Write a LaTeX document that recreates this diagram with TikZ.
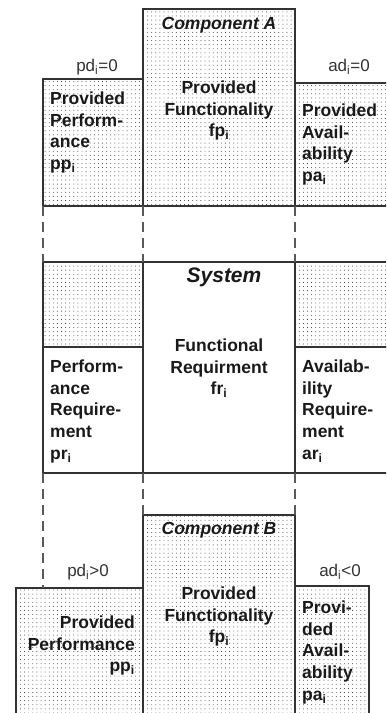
\documentclass[tikz,border=0pt]{standalone}
\usepackage{fontspec}
\setmainfont{Liberation Sans}
\usetikzlibrary{patterns}
\pgfdeclarepatternformonly{dotgrid}{\pgfqpoint{-1pt}{-1pt}}{\pgfqpoint{1pt}{1pt}}{\pgfqpoint{4.1pt}{4.1pt}}{\pgfpathcircle{\pgfqpoint{0pt}{0pt}}{0.45pt}\pgfusepath{fill}}
\tikzset{
  box/.style={draw=black!80, line width=1.5pt, rectangle, inner sep=0pt, outer sep=0pt},
  dotbox/.style={box, pattern=dotgrid, pattern color=black!90},
  guide/.style={draw=black!65, line width=1.3pt, dash pattern=on 10pt off 6pt},
  bodytext/.style={inner sep=0pt, font=\bfseries\fontsize{17.5}{21.7}\selectfont, text=black!90},
  titletext/.style={inner sep=0pt, font=\bfseries\itshape\fontsize{17.5}{21}\selectfont, text=black!90},
  labeltext/.style={inner sep=0pt, font=\fontsize{17}{20}\selectfont, text=black!80}
}
\begin{document}
\begin{tikzpicture}[x=1pt,y=-1pt]
\useasboundingbox (0,0) rectangle (386,713);
\clip (0,0) rectangle (386,713);
% ---- Component A ----
\node[dotbox, minimum width=100pt, minimum height=127pt] (perfA) at (93,142.5) {};
\node[dotbox, minimum width=105pt, minimum height=123pt] (availA) at (347.5,144.5) {};
\node[dotbox, minimum width=152pt, minimum height=197pt] (compA) at (219,107.5) {};
\node[titletext] (tA) at (219,25) {Component A};
\node[bodytext, align=center, anchor=north] (tAF) at (219,80.5) {Provided\\Functionality\\fp\textsubscript{i}};
\node[bodytext, align=left, anchor=north west] (tAP) at (50,91.5) {Provided\\Perform-\\ance\\pp\textsubscript{i}};
\node[bodytext, align=left, anchor=north west] (tAA) at (302,103.5) {Provided\\Avail-\\ability\\pa\textsubscript{i}};
\node[labeltext] (lpdA) at (97,67) {pd\textsubscript{i}=0};
\node[labeltext] (ladA) at (349,67) {ad\textsubscript{i}=0};
% ---- System ----
\node[dotbox, minimum width=100pt, minimum height=85pt] (sysPd) at (93,304.5) {};
\node[box, minimum width=100pt, minimum height=126pt] (sysPr) at (93,410) {};
\node[dotbox, minimum width=105pt, minimum height=85pt] (sysAd) at (347.5,304.5) {};
\node[box, minimum width=105pt, minimum height=126pt] (sysAr) at (347.5,410) {};
\node[box, minimum width=152pt, minimum height=211pt] (sysF) at (219,367.5) {};
\node[titletext, font=\bfseries\itshape\fontsize{21}{25}\selectfont] (tS) at (224,277) {System};
\node[bodytext, align=center, anchor=north] (tSF) at (219,338.5) {Functional\\Requirment\\fr\textsubscript{i}};
\node[bodytext, align=left, anchor=north west] (tSP) at (50,359.5) {Perform-\\ance\\Require-\\ment\\pr\textsubscript{i}};
\node[bodytext, align=left, anchor=north west] (tSA) at (302,359.5) {Availab-\\ility\\Require-\\ment\\ar\textsubscript{i}};
% ---- Component B ----
\node[dotbox, minimum width=127pt, minimum height=142pt] (perfB) at (79.5,659) {};
\node[dotbox, minimum width=74pt, minimum height=144pt] (availB) at (332,658) {};
\node[dotbox, minimum width=152pt, minimum height=215pt] (compB) at (219,622.5) {};
\coordinate (pB) at (43,588);
\node[titletext] (tB) at (219,530) {Component B};
\node[bodytext, align=center, anchor=north] (tBF) at (219,586.5) {Provided\\Functionality\\fp\textsubscript{i}};
\node[bodytext, align=right, anchor=north east] (tBP) at (135,615.5) {Provided\\Performance\\pp\textsubscript{i}};
\node[bodytext, align=left, anchor=north west] (tBA) at (302,600.5) {Provi-\\ded\\Avail-\\ability\\pa\textsubscript{i}};
\node[labeltext] (lpdB) at (88,572) {pd\textsubscript{i}>0};
\node[labeltext] (ladB) at (340,572) {ad\textsubscript{i}<0};
% ---- dashed guides ----
\draw[guide] (perfA.south west) -- (sysPd.north west);
\draw[guide] (compA.south west) -- (sysF.north west);
\draw[guide] (compA.south east) -- (sysF.north east);
\draw[guide] (sysPr.south west) -- (pB);
\draw[guide] (sysF.south west) -- (compB.north west);
\draw[guide] (sysF.south east) -- (compB.north east);
\end{tikzpicture}
\end{document}
